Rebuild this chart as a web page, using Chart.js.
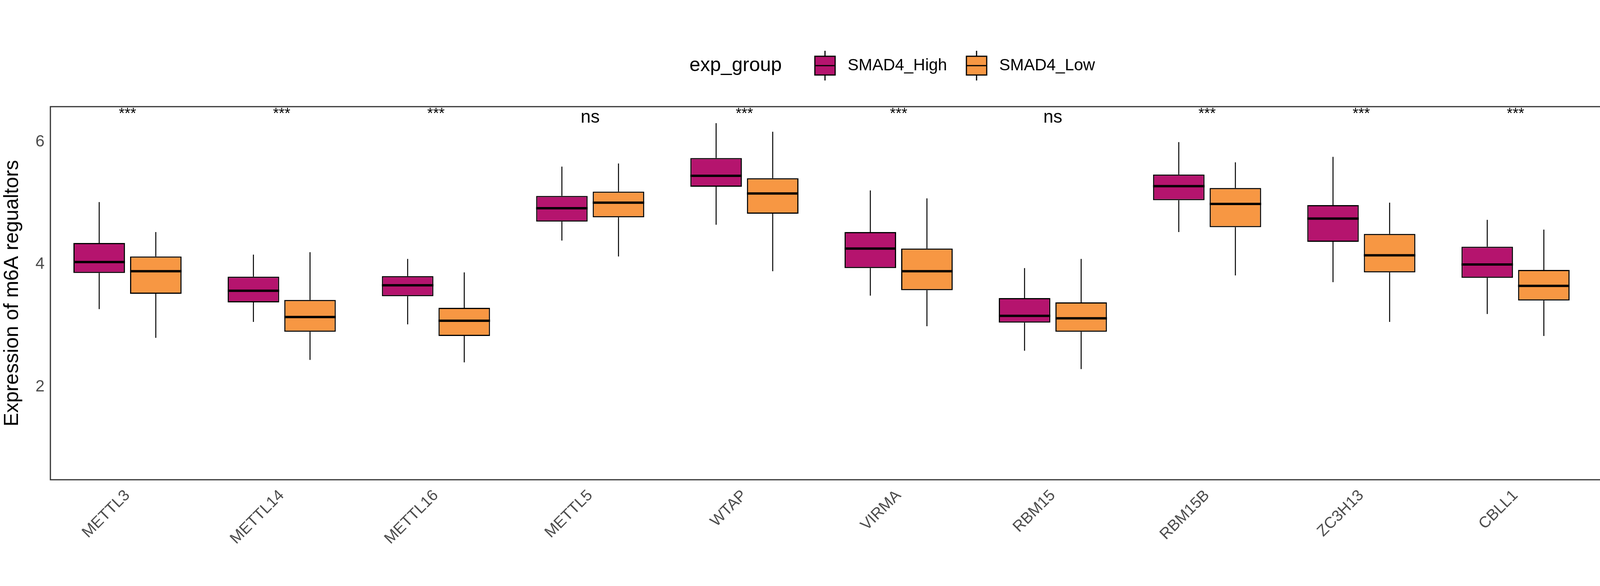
<!DOCTYPE html>
<html><head><meta charset="utf-8">
<script src="https://cdn.jsdelivr.net/npm/chart.js@4"></script>
<style>html,body{margin:0;background:#fff;overflow:hidden}</style>
</head><body><canvas id="c" width="4500" height="1500" style="width:4500px;height:1500px;display:block"></canvas>
<script>
const genes = ["METTL3","METTL14","METTL16","METTL5","WTAP","VIRMA","RBM15","RBM15B","ZC3H13","CBLL1","ZCCHC4"];
const signif = ["***","***","***","ns","***","***","ns","***","***","***","***"];
// [low whisker, q1, median, q3, high whisker]
const highStats = [
  [3.27,3.86,4.04,4.35,5.02],[3.06,3.38,3.57,3.80,4.16],[3.02,3.48,3.66,3.81,4.09],
  [4.39,4.70,4.92,5.12,5.60],[4.65,5.27,5.45,5.74,6.31],[3.49,3.94,4.26,4.53,5.21],
  [2.59,3.05,3.16,3.45,3.94],[4.53,5.05,5.28,5.47,6.00],[3.71,4.37,4.75,4.97,5.76],
  [3.19,3.78,4.00,4.29,4.73],[2.39,2.66,2.84,3.10,3.50]
];
const lowStats = [
  [2.80,3.52,3.89,4.13,4.53],[2.44,2.90,3.14,3.42,4.20],[2.40,2.83,3.08,3.29,3.87],
  [4.13,4.77,5.01,5.19,5.65],[3.89,4.83,5.16,5.41,6.17],[2.99,3.58,3.89,4.26,5.08],
  [2.29,2.90,3.12,3.38,4.09],[3.82,4.61,4.99,5.25,5.67],[3.06,3.87,4.15,4.50,5.01],
  [2.83,3.41,3.65,3.91,4.57],[1.85,2.31,2.61,2.86,3.28]
];
const groups = ["SMAD4_High","SMAD4_Low"];
const colors = ["#B5146E","#F79743"];
const yTicks = [2,4,6];
const FONT = "'Liberation Sans', Arial, sans-serif";

const boxPlugin = {
  id: 'box',
  afterDatasetsDraw(chart) {
    const ctx = chart.ctx, y = chart.scales.y, a = chart.chartArea;
    ctx.save();
    [highStats, lowStats].forEach((stats, di) => {
      chart.getDatasetMeta(di).data.forEach((bar, i) => {
        const s = stats[i], x = bar.x, hw = bar.width / 2;
        ctx.strokeStyle = '#000';
        ctx.lineWidth = 2.5;
        ctx.beginPath();
        ctx.moveTo(x, y.getPixelForValue(s[3])); ctx.lineTo(x, y.getPixelForValue(s[4]));
        ctx.moveTo(x, y.getPixelForValue(s[1])); ctx.lineTo(x, y.getPixelForValue(s[0]));
        ctx.stroke();
        ctx.lineWidth = 6;
        ctx.beginPath();
        ctx.moveTo(x - hw, y.getPixelForValue(s[2])); ctx.lineTo(x + hw, y.getPixelForValue(s[2]));
        ctx.stroke();
      });
    });
    // significance labels
    ctx.fillStyle = '#000';
    ctx.textAlign = 'center';
    ctx.textBaseline = 'middle';
    signif.forEach((t, i) => {
      const x = chart.scales.x.getPixelForValue(i);
      ctx.font = (t === 'ns' ? '46px ' : '38px ') + FONT;
      ctx.fillText(t, x, t === 'ns' ? a.top + 28 : a.top + 20);
    });
    // panel border
    ctx.strokeStyle = '#333';
    ctx.lineWidth = 3;
    ctx.strokeRect(a.left, a.top, a.right - a.left, a.bottom - a.top);
    // legend
    ctx.textAlign = 'left';
    const ly = 168;
    ctx.font = '50px ' + FONT;
    ctx.fillText('exp_group', 1765, ly);
    ctx.font = '42px ' + FONT;
    groups.forEach((g, gi) => {
      const bx = gi === 0 ? 2086 : 2474, bw = 52, bh = 48;
      ctx.fillStyle = colors[gi];
      ctx.fillRect(bx, ly - bh / 2, bw, bh);
      ctx.strokeStyle = '#000'; ctx.lineWidth = 3;
      ctx.strokeRect(bx, ly - bh / 2, bw, bh);
      ctx.beginPath();
      ctx.moveTo(bx, ly); ctx.lineTo(bx + bw, ly);
      ctx.moveTo(bx + bw / 2, ly - bh / 2); ctx.lineTo(bx + bw / 2, ly - 38);
      ctx.moveTo(bx + bw / 2, ly + bh / 2); ctx.lineTo(bx + bw / 2, ly + 38);
      ctx.stroke();
      ctx.fillStyle = '#000';
      ctx.fillText(g, bx + 84, ly);
    });
    ctx.restore();
  }
};

new Chart(document.getElementById('c'), {
  type: 'bar',
  data: {
    labels: genes,
    datasets: groups.map((g, gi) => ({
      label: g,
      data: (gi === 0 ? highStats : lowStats).map(s => [s[1], s[3]]),
      backgroundColor: colors[gi],
      borderColor: '#000',
      borderWidth: 3,
      borderSkipped: false,
      categoryPercentage: 0.734,
      barPercentage: 0.91
    }))
  },
  options: {
    responsive: false,
    devicePixelRatio: 1,
    animation: false,
    layout: { padding: { top: 273, right: 28, left: 0, bottom: 0 } },
    plugins: { legend: { display: false }, tooltip: { enabled: false } },
    scales: {
      x: {
        afterFit: ax => { ax.height = 272; },
        grid: { display: false, drawTicks: true, tickLength: 14, tickWidth: 3, tickColor: '#333' },
        border: { display: false },
        ticks: { maxRotation: 45, minRotation: 45, color: '#4d4d4d', font: { size: 40, family: FONT } }
      },
      y: {
        min: 0.48, max: 6.58,
        afterFit: ax => { ax.width = 129; },
        afterBuildTicks: ax => { ax.ticks = yTicks.map(v => ({ value: v })); },
        grid: { display: false, drawTicks: true, tickLength: 12, tickWidth: 3, tickColor: '#333' },
        border: { display: false },
        ticks: { color: '#4d4d4d', font: { size: 42, family: FONT } },
        title: { display: true, text: 'Expression of m6A regualtors', color: '#000', font: { size: 52, family: FONT }, padding: 0 }
      }
    }
  },
  plugins: [boxPlugin]
});
</script></body></html>
